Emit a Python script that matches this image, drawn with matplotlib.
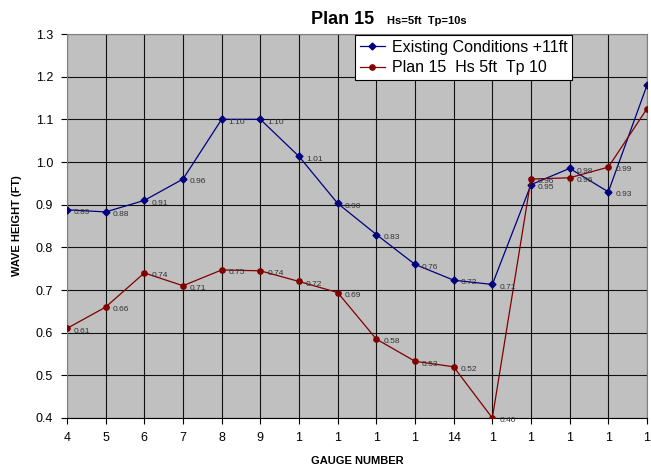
import matplotlib.pyplot as plt
import numpy as np

### chart data

gauges = ['4', '5', '6', '7', '8', '9', '1', '1', '1', '1', '14', '1', '1', '1', '1', '1']
existing = [0.888, 0.883, 0.91, 0.96, 1.10, 1.10, 1.013, 0.903, 0.83, 0.76, 0.723, 0.713, 0.947, 0.985, 0.93, 1.18]
plan15 = [0.61, 0.66, 0.74, 0.71, 0.747, 0.745, 0.72, 0.694, 0.585, 0.533, 0.52, 0.40, 0.96, 0.963, 0.988, 1.125]
existing_name = 'Existing Conditions +11ft'
plan_name = 'Plan 15  Hs 5ft  Tp 10'

plt.rcParams['font.family'] = ['Liberation Sans', 'DejaVu Sans']

fig = plt.figure(figsize=(6.51, 4.68), dpi=100)
ax = fig.add_axes([67 / 651, 1 - 418 / 468, 580 / 651, 384 / 468])
ax.set_facecolor('#C0C0C0')

x = np.arange(len(gauges))
ax.plot(x, existing, color='#000080', lw=0.9, marker='D', ms=3.5, label=existing_name, zorder=3)
ax.plot(x, plan15, color='#800000', lw=0.9, marker='o', ms=3.8, label=plan_name, zorder=3)

# value labels next to each point (last ones fall off the chart)
for i in range(len(gauges) - 1):
    ax.annotate('%.2f' % existing[i], (x[i], existing[i]), xytext=(5, -2),
                textcoords='offset points', fontsize=6, color='#333333', va='center')
    ax.annotate('%.2f' % plan15[i], (x[i], plan15[i]), xytext=(5, -2),
                textcoords='offset points', fontsize=6, color='#333333', va='center')

ax.set_xlim(0, len(gauges) - 1)
ax.set_ylim(0.4, 1.3)
ax.set_xticks(x)
ax.set_xticklabels(gauges, fontsize=9)
ax.set_yticks(np.arange(0.4, 1.31, 0.1))
ax.set_yticklabels(['%.1f' % v for v in np.arange(0.4, 1.31, 0.1)], fontsize=9)
ax.grid(True, color='#111111', lw=0.8)
ax.set_axisbelow(True)
for s in ax.spines.values():
    s.set_color('#808080')
ax.spines['bottom'].set_color('black')
ax.tick_params(length=4, width=0.8, pad=6)

ax.set_xlabel('GAUGE NUMBER', fontsize=8, fontweight='bold', labelpad=9)
ax.set_ylabel('WAVE HEIGHT (FT)', fontsize=8, fontweight='bold', labelpad=10)

fig.text(374 / 651, 1 - 24 / 468, 'Plan 15', ha='right', va='baseline', fontsize=13, fontweight='bold')
fig.text(387 / 651, 1 - 24 / 468, 'Hs=5ft  Tp=10s', ha='left', va='baseline', fontsize=8, fontweight='bold')

leg = ax.legend(loc='upper right', bbox_to_anchor=(572 / 651, 1 - 35 / 468), bbox_transform=fig.transFigure,
                fontsize=11.5, fancybox=False, framealpha=1, edgecolor='black',
                borderpad=0.3, labelspacing=0.35, handlelength=1.6, handletextpad=0.4,
                borderaxespad=0)
leg.get_frame().set_linewidth(0.8)

fig.savefig('out.png', dpi=100)
